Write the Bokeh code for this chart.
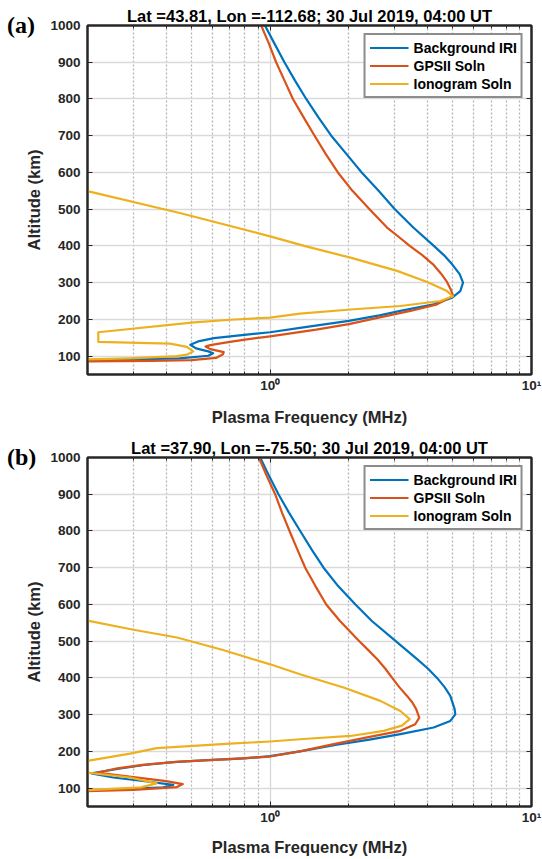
from bokeh.plotting import figure
from bokeh.models import (Range1d, FixedTicker, LogAxis, LinearAxis, Legend, LegendItem,
                          CustomJSTickFormatter, Div, GridBox)
from bokeh.embed import file_html
from bokeh.resources import INLINE

# ---------------- data (plasma frequency in MHz, altitude in km) ----------------
# Panel (a)
a_iri_f = [0.955, 1.04, 1.134, 1.245, 1.374, 1.53, 1.713, 1.96, 2.24, 2.60, 3.0, 3.53, 4.23, 4.62, 4.97,
           5.31, 5.47, 5.34, 4.97, 4.23, 3.15, 2.62, 2.0, 1.3, 1.0, 0.78, 0.61, 0.53, 0.495, 0.52, 0.58,
           0.605, 0.58, 0.45, 0.3, 0.2]
a_iri_h = [1000, 950, 900, 850, 800, 750, 700, 650, 600, 550, 500, 450, 400, 375, 350,
           323, 300, 277, 259, 241, 223, 211, 196, 177, 165, 157, 149, 140, 131, 121, 113,
           108, 101, 94, 91, 89]

a_gps_f = [0.924, 0.99, 1.054, 1.135, 1.222, 1.343, 1.479, 1.633, 1.816, 2.065, 2.40, 2.80, 3.1, 3.42,
           3.82, 4.2, 4.5, 4.75, 4.92, 5.01, 4.35, 3.44, 2.6, 2.0, 1.5, 1.0, 0.8, 0.664, 0.59, 0.566, 0.59,
           0.664, 0.66, 0.62, 0.5, 0.35, 0.2]
a_gps_h = [1000, 950, 900, 850, 800, 750, 700, 650, 600, 550, 500, 450, 425, 400,
           375, 350, 325, 302, 280, 264, 241, 223, 205, 187, 172, 154, 145, 136, 130, 126, 119,
           111, 105, 95, 89, 87, 85.5]

a_ion_f = [0.2, 0.455, 1.0, 1.35, 2.03, 3.06, 3.99, 4.75, 5.0, 4.48, 3.15, 2.03, 1.3, 1.0, 0.705, 0.511,
           0.22, 0.22, 0.414, 0.48, 0.508, 0.48, 0.439, 0.291, 0.2]
a_ion_h = [549, 489, 426, 400, 368, 332, 302, 277, 263, 250, 236.5, 227, 215.6, 205, 199, 192,
           165, 139, 134, 125, 113, 104, 100, 94, 91]

# Panel (b)
b_iri_f = [0.916, 0.99, 1.076, 1.18, 1.303, 1.44, 1.601, 1.82, 2.12, 2.45, 3.0, 3.65, 4.02, 4.35, 4.65,
           4.89, 5.08, 5.11, 4.89, 4.22, 3.15, 2.4, 1.8, 1.3, 1.0, 0.8, 0.6, 0.426, 0.33, 0.26, 0.207,
           0.251, 0.337, 0.426, 0.39, 0.251, 0.2]
b_iri_h = [1000, 950, 900, 850, 800, 750, 700, 650, 600, 555, 502, 451, 425, 400, 375,
           351, 315, 301, 283, 265, 247, 232, 218, 200, 187, 181, 177, 171, 163, 152, 140,
           129, 118, 109, 102, 96, 95]

b_gps_f = [0.905, 0.97, 1.045, 1.11, 1.186, 1.27, 1.362, 1.49, 1.639, 1.85, 2.18, 2.38, 2.57, 2.76, 2.93,
           3.12, 3.34, 3.5, 3.62, 3.72, 3.59, 3.15, 2.35, 1.75, 1.3, 1.0, 0.7, 0.45, 0.33, 0.26, 0.217,
           0.3, 0.4, 0.463, 0.44, 0.3, 0.2]
b_gps_h = [1000, 950, 900, 850, 800, 750, 700, 650, 600, 555, 502, 475, 451, 425, 400,
           375, 351, 333, 315, 292, 274, 256, 238, 220, 200, 186, 179, 172, 164, 154, 142,
           130, 119, 111, 103, 95, 92]

b_ion_f = [0.2, 0.3, 0.44, 0.66, 1.0, 1.3, 1.91, 2.64, 3.15, 3.42, 3.19, 2.72, 2.03, 1.3, 1.0, 0.703,
           0.368, 0.291, 0.2, 0.2, 0.291, 0.368, 0.32, 0.21, 0.2]
b_ion_h = [556, 531, 510, 476, 437, 410, 374, 337.5, 310, 288, 270, 256, 242, 233, 227, 221,
           209, 194, 174, 142, 129, 113, 102, 95, 94.5]

titles = ["Lat =43.81, Lon =-112.68; 30 Jul 2019, 04:00 UT",
          "Lat =37.90, Lon =-75.50; 30 Jul 2019, 04:00 UT"]
tags = ["(a)", "(b)"]
series_names = ["Background IRI", "GPSII Soln", "Ionogram Soln"]
colors = ["#0072BD", "#D95319", "#EDB120"]
x_major = [1, 10]
x_minor = [0.3, 0.4, 0.5, 0.6, 0.7, 0.8, 0.9, 2, 3, 4, 5, 6, 7, 8, 9]
y_ticks = [100, 200, 300, 400, 500, 600, 700, 800, 900, 1000]
x_label = "Plasma Frequency (MHz)"
y_label = "Altitude (km)"

FONT = "Liberation Sans"
TXT = "#262626"

fmt_code = """
if (Math.abs(tick - 1) < 1e-9) { return '10\u2070'; }
if (Math.abs(tick - 10) < 1e-9) { return '10\u00b9'; }
return '';
"""


def style_axis(ax, labels=True):
    ax.axis_line_color = TXT
    ax.axis_line_width = 2
    ax.major_tick_line_color = TXT
    ax.minor_tick_line_color = TXT
    ax.major_tick_in = 5
    ax.major_tick_out = 0
    ax.minor_tick_in = 3
    ax.minor_tick_out = 0
    ax.major_tick_line_width = 1
    ax.minor_tick_line_width = 1
    if labels:
        ax.major_label_text_font = FONT
        ax.major_label_text_font_style = "bold"
        ax.major_label_text_font_size = "13.5px"
        ax.major_label_text_color = TXT
        ax.axis_label_text_font = FONT
        ax.axis_label_text_font_style = "bold"
        ax.axis_label_text_font_size = "16.5px"
        ax.axis_label_text_color = TXT
    else:
        ax.formatter = CustomJSTickFormatter(code="return '';")
        ax.major_label_text_font_size = "1px"
        ax.major_label_text_alpha = 0
        ax.major_label_standoff = 0


def make_panel(series, title, height, mb_top, mb_bottom, xlab_standoff):
    p = figure(width=542, height=height, x_axis_type="log",
               x_range=Range1d(0.2, 10), y_range=Range1d(50, 1000),
               output_backend="svg", toolbar_location=None,
               min_border_left=87, min_border_right=11, min_border_top=mb_top,
               min_border_bottom=mb_bottom)
    p.background_fill_color = "white"
    p.border_fill_color = "white"
    p.outline_line_color = TXT
    p.outline_line_width = 2

    p.title.text = title
    p.title.align = "center"
    p.title.text_font = FONT
    p.title.text_font_style = "bold"
    p.title.text_font_size = "16.5px"
    p.title.text_color = "black"
    p.title.standoff = 2
    p.title.offset = 0

    xt = FixedTicker(ticks=x_major, minor_ticks=x_minor)
    yt = FixedTicker(ticks=y_ticks, minor_ticks=[])

    xa = p.xaxis[0]
    xa.ticker = xt
    xa.formatter = CustomJSTickFormatter(code=fmt_code)
    xa.axis_label = x_label
    style_axis(xa)
    xa.major_label_standoff = 3
    xa.axis_label_standoff = xlab_standoff

    ya = p.yaxis[0]
    ya.ticker = yt
    ya.axis_label = y_label
    style_axis(ya)
    ya.major_label_standoff = 7
    ya.axis_label_standoff = 4

    top = LogAxis(ticker=xt)
    style_axis(top, labels=False)
    p.add_layout(top, "above")
    right = LinearAxis(ticker=yt)
    style_axis(right, labels=False)
    p.add_layout(right, "right")

    p.xgrid.ticker = xt
    p.xgrid.grid_line_color = "#d6d6d6"
    p.xgrid.grid_line_width = 1.3
    p.xgrid.minor_grid_line_color = "#b5b5b5"
    p.xgrid.minor_grid_line_width = 1.3
    p.xgrid.minor_grid_line_dash = "2 2"
    p.ygrid.ticker = yt
    p.ygrid.grid_line_color = "#dadada"
    p.ygrid.grid_line_width = 1.3

    items = []
    for (f, h), name, c in zip(series, series_names, colors):
        r = p.line(f, h, line_width=2.2, line_color=c, line_join="round")
        items.append(LegendItem(label=name, renderers=[r]))

    leg = Legend(items=items, location="top_right")
    leg.margin = 8
    leg.padding = 4
    leg.spacing = 1
    leg.glyph_width = 39
    leg.glyph_height = 17
    leg.label_height = 17
    leg.label_standoff = 5
    leg.label_text_font = FONT
    leg.label_text_font_style = "bold"
    leg.label_text_font_size = "14px"
    leg.label_text_color = "black"
    leg.border_line_color = "#1a1a1a"
    leg.border_line_width = 2
    leg.background_fill_color = "white"
    leg.background_fill_alpha = 1
    p.add_layout(leg)
    return p


def make_tag(text, top):
    return Div(text=text, width=40, height=30, margin=(top, 0, 0, 7),
               align="start",
               styles={"font-family": "'Liberation Serif', 'Times New Roman', serif",
                       "font-weight": "bold", "font-size": "24px", "line-height": "24px",
                       "color": "black", "z-index": "5", "pointer-events": "none"})


pa = make_panel([(a_iri_f, a_iri_h), (a_gps_f, a_gps_h), (a_ion_f, a_ion_h)],
                titles[0], 432, 25, 58, 12)
pb = make_panel([(b_iri_f, b_iri_h), (b_gps_f, b_gps_h), (b_ion_f, b_ion_h)],
                titles[1], 427, 25, 53, 10)

grid = GridBox(children=[(pa, 0, 0), (make_tag(tags[0], 13), 0, 0),
                         (pb, 1, 0), (make_tag(tags[1], 13), 1, 0)],
               spacing=0)
open("out.html", "w").write(file_html(grid, INLINE))
